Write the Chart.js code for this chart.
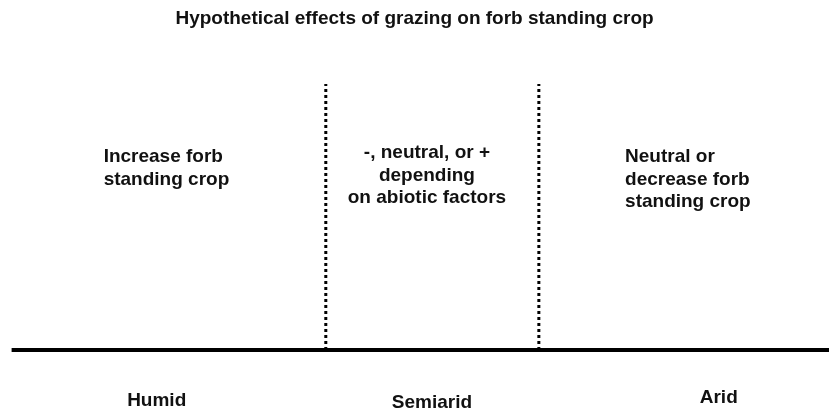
<!DOCTYPE html>
<html>
<head>
<meta charset="utf-8">
<script src="https://cdn.jsdelivr.net/npm/chart.js@4.4.0/dist/chart.umd.min.js"></script>
<style>
  html, body { margin: 0; padding: 0; background: #fff; }
  #wrap { width: 829px; height: 414px; }
</style>
</head>
<body>
<div id="wrap"><canvas id="chart"></canvas></div>
<script>
// gradient runs 0..100 from humid to arid, y is just height above the baseline
const title = 'Hypothetical effects of grazing on forb standing crop';
const dividerX = [39.3, 65.0];
const dividerTop = 76;
const baselineX = [1.4, 100];

const zoneNames = ['Humid', 'Semiarid', 'Arid'];
const zoneNameX = [18.9, 52.1, 86.7];
const zoneNameY = [-14.6, -15.1, -13.7];

const effectText = [
    ['Increase forb', 'standing crop'],
    ['-, neutral, or +', 'depending', 'on abiotic factors'],
    ['Neutral or', 'decrease forb', 'standing crop']
];
const effectX = [12.5, 51.5, 75.4];
const effectY = [55.1, 56.3, 55.1];
const effectAlign = ['left', 'center', 'left'];

const font = '"Liberation Sans", Arial, sans-serif';

const datasets = [];
// baseline
datasets.push({
    data: [{x: baselineX[0], y: 0}, {x: baselineX[1], y: 0}],
    borderColor: '#000',
    borderWidth: 4,
    pointRadius: 0,
    showLine: true
});
// dotted dividers
for (let i = 0; i < dividerX.length; i++) {
    datasets.push({
        data: [{x: dividerX[i], y: 0}, {x: dividerX[i], y: dividerTop}],
        borderColor: '#000',
        borderWidth: 3,
        borderDash: [3, 3],
        pointRadius: 0,
        showLine: true
    });
}

const textPlugin = {
    id: 'zoneText',
    afterDatasetsDraw(chart) {
        const ctx = chart.ctx;
        const xs = chart.scales.x;
        const ys = chart.scales.y;
        ctx.save();
        ctx.fillStyle = '#111';
        ctx.textBaseline = 'middle';
        ctx.font = 'bold 19px ' + font;
        for (let i = 0; i < effectText.length; i++) {
            ctx.textAlign = effectAlign[i];
            const px = xs.getPixelForValue(effectX[i]);
            const py = ys.getPixelForValue(effectY[i]);
            effectText[i].forEach((line, j) => {
                ctx.fillText(line, px, py + j * 22.5);
            });
        }
        ctx.textAlign = 'center';
        for (let i = 0; i < zoneNames.length; i++) {
            ctx.fillText(zoneNames[i], xs.getPixelForValue(zoneNameX[i]), ys.getPixelForValue(zoneNameY[i]));
        }
        ctx.restore();
    }
};

new Chart(document.getElementById('chart'), {
    type: 'scatter',
    data: { datasets: datasets },
    options: {
        responsive: true,
        maintainAspectRatio: false,
        animation: false,
        layout: { padding: 0 },
        scales: {
            x: { display: false, min: 0, max: 100 },
            y: { display: false, min: -18.29, max: 91.49 }
        },
        plugins: {
            legend: { display: false },
            tooltip: { enabled: false },
            title: {
                display: true,
                text: title,
                color: '#111',
                font: { family: font, size: 19, weight: 'bold' },
                padding: { top: 7, bottom: 0 }
            }
        }
    },
    plugins: [textPlugin]
});
</script>
</body>
</html>
